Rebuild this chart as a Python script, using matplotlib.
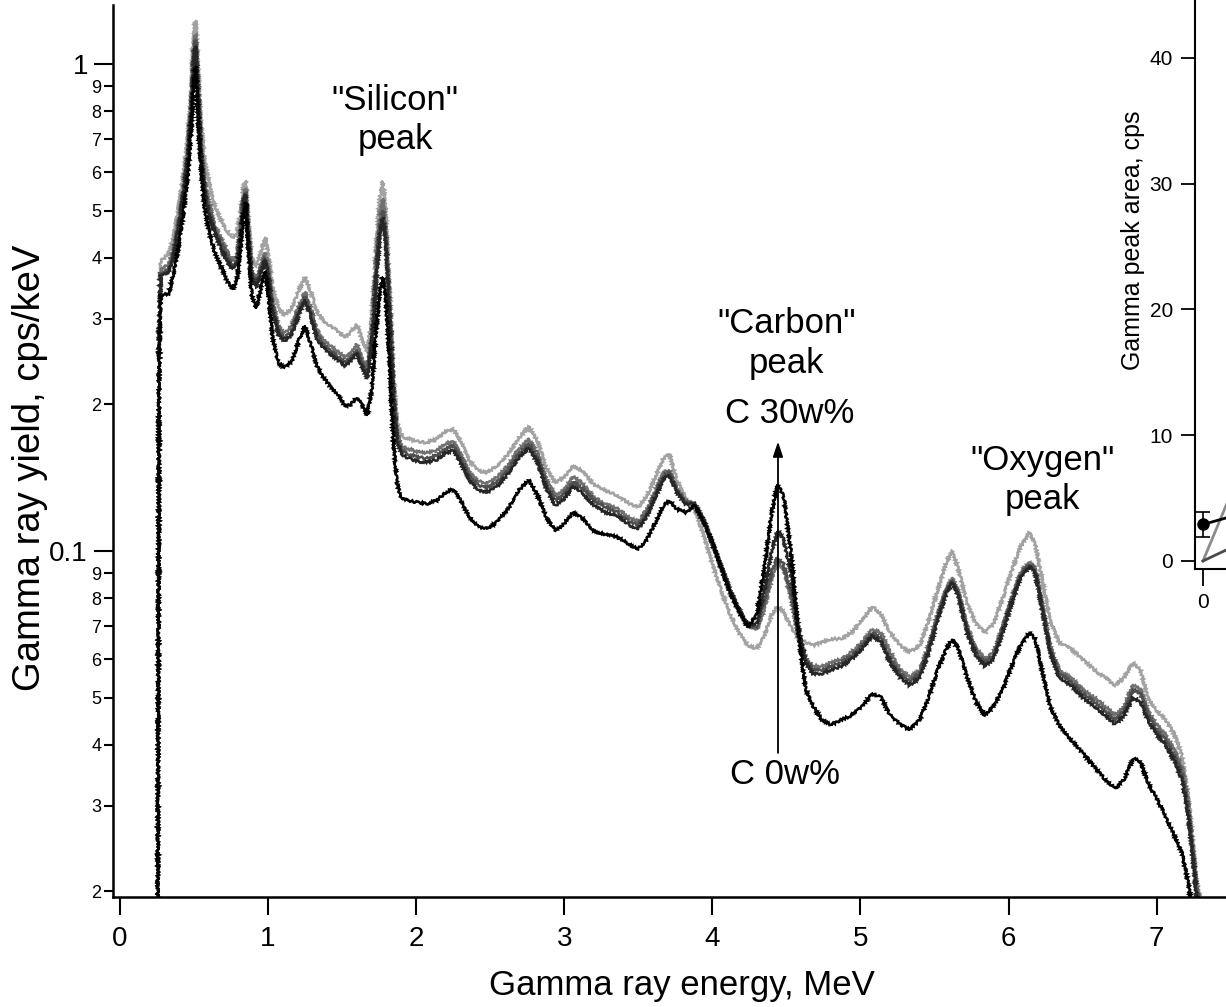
import matplotlib
matplotlib.use("Agg")
import matplotlib.pyplot as plt
from matplotlib.ticker import FixedLocator, FuncFormatter
import numpy as np

plt.rcParams['font.family'] = ['Liberation Sans', 'DejaVu Sans']

# gamma spectra, cps/keV, shared energy grid in MeV
energy = [0.255, 0.265, 0.275, 0.30, 0.33, 0.36, 0.40, 0.43, 0.46, 0.48,
          0.495, 0.51, 0.525, 0.545, 0.57, 0.60, 0.64, 0.68, 0.72, 0.76,
          0.79, 0.815, 0.835, 0.85, 0.865, 0.89, 0.92, 0.95, 0.98, 1.00,
          1.03, 1.07, 1.11, 1.16, 1.21, 1.25, 1.29, 1.33, 1.37, 1.42,
          1.47, 1.52, 1.56, 1.60, 1.63, 1.67, 1.70, 1.73, 1.755, 1.775,
          1.795, 1.82, 1.845, 1.87, 1.90, 1.95, 2.00, 2.07, 2.14, 2.20,
          2.25, 2.30, 2.36, 2.42, 2.48, 2.55, 2.62, 2.69, 2.76, 2.82,
          2.88, 2.94, 3.00, 3.06, 3.12, 3.20, 3.28, 3.36, 3.44, 3.50,
          3.56, 3.62, 3.67, 3.71, 3.76, 3.82, 3.88, 3.94, 4.00, 4.06,
          4.12, 4.18, 4.24, 4.30, 4.35, 4.40, 4.44, 4.48, 4.53, 4.58,
          4.63, 4.68, 4.74, 4.80, 4.87, 4.94, 5.01, 5.08, 5.14, 5.20,
          5.27, 5.33, 5.40, 5.46, 5.52, 5.58, 5.62, 5.66, 5.72, 5.78,
          5.84, 5.90, 5.96, 6.02, 6.08, 6.14, 6.18, 6.23, 6.28, 6.34,
          6.42, 6.50, 6.58, 6.65, 6.72, 6.78, 6.84, 6.89, 6.94, 7.00,
          7.06, 7.12, 7.17, 7.21, 7.24, 7.27, 7.30]

yield_c0 = [0.0185, 0.30, 0.395, 0.40, 0.41, 0.44, 0.52, 0.60, 0.72, 0.88,
            1.10, 1.23, 1.00, 0.78, 0.64, 0.57, 0.51, 0.48, 0.455, 0.44,
            0.45, 0.50, 0.56, 0.575, 0.49, 0.40, 0.385, 0.41, 0.44, 0.41,
            0.35, 0.315, 0.305, 0.315, 0.345, 0.365, 0.34, 0.31, 0.298, 0.29,
            0.283, 0.275, 0.282, 0.292, 0.275, 0.256, 0.30, 0.42, 0.53, 0.575,
            0.50, 0.35, 0.235, 0.185, 0.172, 0.17, 0.168, 0.167, 0.17, 0.176,
            0.178, 0.168, 0.153, 0.146, 0.145, 0.15, 0.158, 0.17, 0.18, 0.168,
            0.148, 0.138, 0.142, 0.15, 0.146, 0.137, 0.133, 0.13, 0.125, 0.123,
            0.13, 0.143, 0.155, 0.158, 0.14, 0.128, 0.122, 0.108, 0.094, 0.083,
            0.074, 0.068, 0.064, 0.063, 0.067, 0.074, 0.077, 0.075, 0.07, 0.066,
            0.065, 0.064, 0.065, 0.066, 0.066, 0.068, 0.072, 0.077, 0.074, 0.068,
            0.064, 0.062, 0.064, 0.072, 0.083, 0.095, 0.10, 0.092, 0.078, 0.071,
            0.068, 0.071, 0.08, 0.091, 0.102, 0.109, 0.103, 0.086, 0.072, 0.065,
            0.063, 0.06, 0.057, 0.055, 0.053, 0.055, 0.059, 0.057, 0.05, 0.047,
            0.045, 0.042, 0.038, 0.032, 0.026, 0.021, 0.0185]

yield_c1 = [0.0185, 0.29, 0.38, 0.382, 0.39, 0.415, 0.49, 0.56, 0.67, 0.82,
            1.02, 1.15, 0.92, 0.70, 0.58, 0.52, 0.465, 0.44, 0.415, 0.395,
            0.405, 0.46, 0.535, 0.555, 0.46, 0.375, 0.36, 0.385, 0.41, 0.385,
            0.325, 0.29, 0.28, 0.29, 0.32, 0.34, 0.315, 0.285, 0.272, 0.264,
            0.257, 0.249, 0.256, 0.266, 0.25, 0.235, 0.275, 0.385, 0.49, 0.53,
            0.46, 0.325, 0.22, 0.175, 0.164, 0.162, 0.16, 0.159, 0.161, 0.166,
            0.168, 0.158, 0.145, 0.139, 0.138, 0.142, 0.15, 0.161, 0.17, 0.159,
            0.14, 0.13, 0.134, 0.142, 0.138, 0.129, 0.125, 0.122, 0.117, 0.115,
            0.122, 0.134, 0.145, 0.147, 0.134, 0.127, 0.125, 0.115, 0.103, 0.092,
            0.082, 0.075, 0.07, 0.069, 0.076, 0.088, 0.095, 0.092, 0.08, 0.067,
            0.06, 0.058, 0.058, 0.059, 0.06, 0.062, 0.065, 0.069, 0.068, 0.062,
            0.057, 0.055, 0.057, 0.064, 0.074, 0.084, 0.088, 0.083, 0.07, 0.063,
            0.06, 0.062, 0.07, 0.08, 0.09, 0.095, 0.092, 0.077, 0.064, 0.057,
            0.055, 0.052, 0.05, 0.048, 0.046, 0.048, 0.053, 0.052, 0.047, 0.044,
            0.042, 0.039, 0.036, 0.031, 0.025, 0.0205, 0.0185]

yield_c2 = [0.0185, 0.285, 0.372, 0.375, 0.38, 0.405, 0.475, 0.55, 0.66, 0.80,
            1.00, 1.12, 0.90, 0.68, 0.56, 0.50, 0.455, 0.43, 0.405, 0.385,
            0.395, 0.45, 0.525, 0.545, 0.45, 0.37, 0.352, 0.378, 0.40, 0.375,
            0.318, 0.283, 0.274, 0.283, 0.313, 0.333, 0.308, 0.278, 0.266, 0.258,
            0.251, 0.244, 0.25, 0.259, 0.244, 0.23, 0.268, 0.37, 0.465, 0.50,
            0.44, 0.315, 0.215, 0.172, 0.161, 0.158, 0.156, 0.155, 0.157, 0.162,
            0.165, 0.155, 0.142, 0.136, 0.135, 0.139, 0.147, 0.158, 0.166, 0.155,
            0.137, 0.127, 0.131, 0.139, 0.135, 0.127, 0.123, 0.12, 0.115, 0.113,
            0.12, 0.132, 0.143, 0.145, 0.133, 0.126, 0.125, 0.116, 0.104, 0.093,
            0.083, 0.076, 0.07, 0.07, 0.079, 0.091, 0.097, 0.094, 0.082, 0.068,
            0.06, 0.057, 0.057, 0.058, 0.059, 0.061, 0.064, 0.068, 0.066, 0.06,
            0.056, 0.054, 0.056, 0.063, 0.073, 0.083, 0.087, 0.082, 0.069, 0.062,
            0.059, 0.061, 0.069, 0.079, 0.089, 0.094, 0.091, 0.076, 0.063, 0.056,
            0.054, 0.051, 0.049, 0.047, 0.045, 0.047, 0.052, 0.051, 0.046, 0.043,
            0.041, 0.038, 0.035, 0.03, 0.025, 0.02, 0.0185]

yield_c3 = [0.0185, 0.28, 0.368, 0.37, 0.375, 0.40, 0.47, 0.545, 0.65, 0.79,
            0.97, 1.09, 0.88, 0.67, 0.55, 0.49, 0.45, 0.42, 0.395, 0.38,
            0.39, 0.445, 0.52, 0.54, 0.445, 0.365, 0.348, 0.372, 0.395, 0.37,
            0.312, 0.278, 0.27, 0.278, 0.308, 0.328, 0.302, 0.273, 0.262, 0.254,
            0.247, 0.24, 0.246, 0.255, 0.24, 0.226, 0.262, 0.36, 0.45, 0.485,
            0.43, 0.31, 0.21, 0.168, 0.158, 0.155, 0.153, 0.152, 0.154, 0.159,
            0.161, 0.152, 0.139, 0.133, 0.132, 0.136, 0.144, 0.155, 0.163, 0.152,
            0.134, 0.124, 0.128, 0.136, 0.132, 0.124, 0.12, 0.118, 0.113, 0.111,
            0.118, 0.13, 0.141, 0.143, 0.132, 0.125, 0.125, 0.116, 0.104, 0.093,
            0.083, 0.076, 0.07, 0.071, 0.083, 0.10, 0.11, 0.106, 0.09, 0.07,
            0.059, 0.056, 0.056, 0.057, 0.058, 0.06, 0.063, 0.067, 0.065, 0.059,
            0.055, 0.053, 0.055, 0.062, 0.072, 0.082, 0.086, 0.081, 0.068, 0.061,
            0.058, 0.06, 0.068, 0.078, 0.088, 0.093, 0.09, 0.075, 0.062, 0.055,
            0.053, 0.05, 0.048, 0.046, 0.044, 0.046, 0.05, 0.049, 0.045, 0.042,
            0.04, 0.037, 0.034, 0.029, 0.024, 0.0195, 0.0185]

yield_c30 = [0.0185, 0.26, 0.335, 0.336, 0.338, 0.37, 0.43, 0.50, 0.60, 0.72,
             0.88, 0.99, 0.80, 0.62, 0.51, 0.455, 0.41, 0.385, 0.36, 0.345,
             0.36, 0.42, 0.50, 0.52, 0.42, 0.335, 0.315, 0.345, 0.375, 0.34,
             0.275, 0.243, 0.238, 0.245, 0.272, 0.29, 0.265, 0.24, 0.228, 0.218,
             0.21, 0.198, 0.20, 0.207, 0.20, 0.19, 0.215, 0.285, 0.345, 0.365,
             0.33, 0.245, 0.17, 0.138, 0.128, 0.127, 0.126, 0.125, 0.127, 0.132,
             0.134, 0.127, 0.117, 0.112, 0.111, 0.115, 0.122, 0.133, 0.14, 0.13,
             0.117, 0.11, 0.114, 0.12, 0.117, 0.11, 0.108, 0.107, 0.103, 0.101,
             0.106, 0.115, 0.124, 0.127, 0.122, 0.12, 0.124, 0.115, 0.104, 0.092,
             0.082, 0.075, 0.07, 0.074, 0.092, 0.12, 0.137, 0.13, 0.10, 0.068,
             0.052, 0.048, 0.045, 0.044, 0.045, 0.046, 0.048, 0.051, 0.05, 0.046,
             0.044, 0.043, 0.045, 0.05, 0.057, 0.063, 0.066, 0.063, 0.055, 0.049,
             0.046, 0.048, 0.052, 0.058, 0.064, 0.068, 0.066, 0.056, 0.048, 0.044,
             0.041, 0.0385, 0.036, 0.034, 0.0325, 0.034, 0.0375, 0.037, 0.0335, 0.031,
             0.0285, 0.026, 0.024, 0.021, 0.0185, 0.0185, 0.0185]

spectra = [yield_c0, yield_c1, yield_c2, yield_c3, yield_c30]
shades = ['#a2a2a2', '#717171', '#4f4f4f', '#262626', '#000000']

# inset: 4.44 MeV peak area vs carbon content
carbon_wt = [0, 10, 20, 30]
peak_area = [2.9, 4.7, 6.5, 8.3]
peak_err = [1.0, 1.0, 1.0, 1.0]
area_gray = [0, 15.3, 30.6, 46.0]
area_dark = [0, 3.0, 6.0, 9.0]

fig = plt.figure(figsize=(12.26, 10.07), dpi=100)
ax = fig.add_axes([113 / 1226, 110 / 1007, 1113 / 1226, 892 / 1007])

for ys, c in zip(spectra, shades):
    line, = ax.plot(energy, ys, color=c, lw=1.8, solid_joinstyle='miter')
    line.set_sketch_params(scale=1.1, length=3.0, randomness=2.5)

ax.set_yscale('log')
ax.set_xlim(-0.047, 7.468)
ax.set_ylim(0.01948, 1.322)

for side in ['top', 'right']:
    ax.spines[side].set_visible(False)
for side in ['left', 'bottom']:
    ax.spines[side].set_linewidth(1.8)

ax.yaxis.set_major_locator(FixedLocator([0.1, 1.0]))
ax.yaxis.set_minor_locator(FixedLocator([m * d for d in (0.01, 0.1) for m in range(2, 10)]))
ax.yaxis.set_major_formatter(FuncFormatter(lambda v, p: '1' if v >= 1 else '0.1'))
ax.yaxis.set_minor_formatter(FuncFormatter(
    lambda v, p: str(int(round(v / 10 ** np.floor(np.log10(v) + 1e-9))))))
ax.tick_params(axis='y', which='major', direction='out', length=14, width=1.5,
               labelsize=20, pad=4)
ax.tick_params(axis='y', which='minor', direction='out', length=6.5, width=1.5,
               labelsize=13, pad=2)
ax.set_xticks(range(8))
ax.tick_params(axis='x', direction='out', length=13, width=1.5, labelsize=20, pad=8)

ax.set_xlabel('Gamma ray energy, MeV', fontsize=25, va='center')
ax.xaxis.set_label_coords(0.511, -0.099)
ax.set_ylabel('Gamma ray yield, cps/keV', fontsize=27.5, va='center')
ax.yaxis.set_label_coords(-0.075, 0.481)

note = dict(fontsize=25, ha='center', va='center', linespacing=1.25)
ax.text(1.857, 0.767, '"Silicon"\npeak', **note)
ax.text(4.50, 0.267, '"Carbon"\npeak', **note)
ax.text(4.52, 0.192, 'C 30w%', **note)
ax.text(4.49, 0.0347, 'C 0w%', **note)
ax.text(6.23, 0.140, '"Oxygen"\npeak', **note)
ax.annotate('', xy=(4.443, 0.170), xytext=(4.443, 0.038),
            arrowprops=dict(arrowstyle='-|>,head_length=0.9,head_width=0.3',
                            color='black', lw=1.3))

ins = fig.add_axes([1195 / 1226, 438 / 1007, 264 / 1226, 569 / 1007])
ins.plot(carbon_wt, area_gray, color='#8c8c8c', lw=2)
ins.plot(carbon_wt, area_dark, color='#4a4a4a', lw=2)
ins.errorbar(carbon_wt, peak_area, yerr=peak_err, color='black', lw=2,
             marker='o', ms=8, capsize=5, elinewidth=1.2, capthick=1.2)
ins.set_xlim(-1, 32)
ins.set_ylim(-0.64, 44.6)
for side in ['top', 'right']:
    ins.spines[side].set_visible(False)
for side in ['left', 'bottom']:
    ins.spines[side].set_linewidth(1.5)
ins.set_yticks([0, 10, 20, 30, 40])
ins.set_xticks([0])
ins.tick_params(axis='y', direction='out', length=10, width=1.3, labelsize=15, pad=6)
ins.tick_params(axis='x', direction='out', length=12, width=1.3, labelsize=15, pad=5)
ins.set_ylabel('Gamma peak area, cps', fontsize=18, va='center')
ins.yaxis.set_label_coords(-0.235, 0.578)

fig.savefig('out.png', dpi=100)
